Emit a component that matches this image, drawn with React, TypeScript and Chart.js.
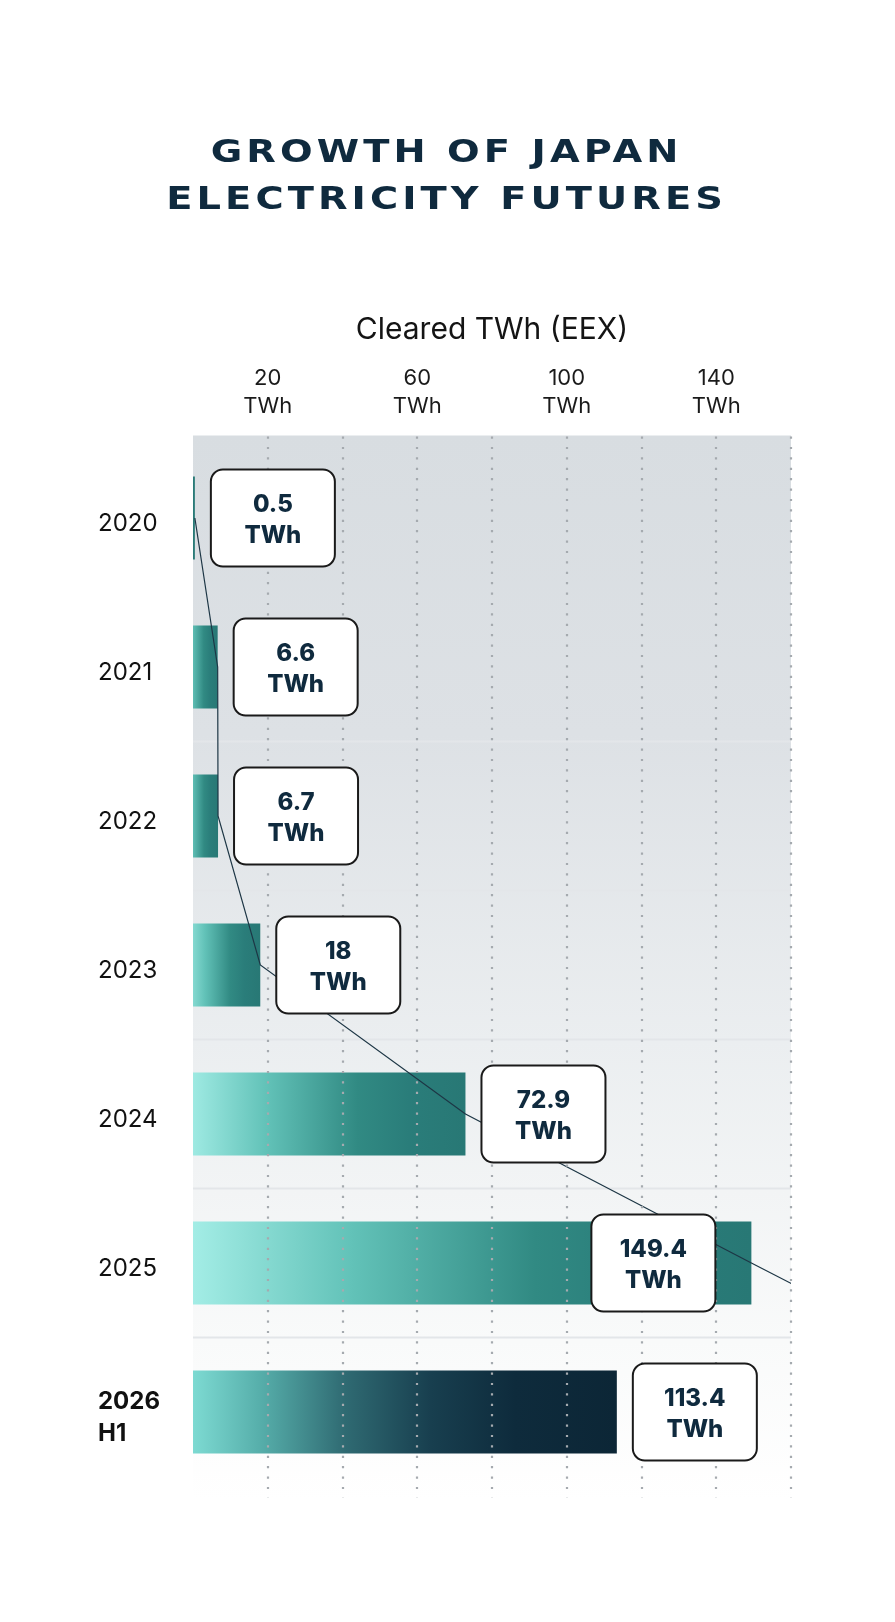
import React, { useEffect, useRef } from 'react';
import { Chart, registerables } from 'chart.js';

Chart.register(...registerables);

const years = ['2020', '2021', '2022', '2023', '2024', '2025', ['2026', 'H1']];
const clearedTWh = [0.5, 6.6, 6.7, 18, 72.9, 149.4, 113.4];
// connecting line; last point is H1 2026 at full-year pace, runs off the chart
const trendTWh = [0.5, 6.6, 6.7, 18, 72.9, 149.4, 226.8];
const labelledTicks = [20, 60, 100, 140];

const NAVY = '#0f2a3e';
const BOX_W = 124;
const BOX_H = 97;

function barFill(c: any) {
  const chart = c.chart;
  if (!chart.chartArea || c.type !== 'data') return '#2a7d7a';
  const xs = chart.scales.x;
  const x0 = xs.getPixelForValue(0);
  const x1 = xs.getPixelForValue(clearedTWh[c.dataIndex]);
  if (c.dataIndex === clearedTWh.length - 1) {
    const g = chart.ctx.createLinearGradient(x0, 0, x1, 0);
    g.addColorStop(0, '#7ddad2');
    g.addColorStop(0.16, '#56aeaa');
    g.addColorStop(0.36, '#2f6a72');
    g.addColorStop(0.56, '#183f4f');
    g.addColorStop(0.76, '#0e2b3c');
    g.addColorStop(1, '#0c2636');
    return g;
  }
  const g = chart.ctx.createLinearGradient(x0 - 12, 0, x1, 0);
  g.addColorStop(0, '#a8f0e9');
  g.addColorStop(0.3, '#62c2b8');
  g.addColorStop(0.62, '#318a83');
  g.addColorStop(0.8, '#2a7d7a');
  g.addColorStop(1, '#287875');
  return g;
}

const decor = {
  id: 'decor',
  beforeDraw(chart: any) {
    const { ctx, chartArea: a } = chart;
    const top = a.top - 8;
    const bottom = a.bottom + 14;
    const g = ctx.createLinearGradient(0, top, 0, bottom);
    g.addColorStop(0, '#d8dde1');
    g.addColorStop(0.28, '#dde1e5');
    g.addColorStop(0.57, '#ebeef0');
    g.addColorStop(0.85, '#f9fafa');
    g.addColorStop(1, '#ffffff');
    ctx.save();
    ctx.fillStyle = g;
    ctx.fillRect(a.left, top, a.right - a.left, bottom - top);
    ctx.restore();
  },
  beforeDatasetsDraw(chart: any) {
    const { ctx, chartArea: a } = chart;
    const ys = chart.scales.y;
    ctx.save();
    ctx.strokeStyle = '#e3e6e9';
    ctx.lineWidth = 2;
    for (let i = 1; i < years.length - 1; i++) {
      const y = (ys.getPixelForValue(i) + ys.getPixelForValue(i + 1)) / 2;
      ctx.beginPath();
      ctx.moveTo(a.left, y);
      ctx.lineTo(a.right, y);
      ctx.stroke();
    }
    ctx.restore();
  },
  afterDatasetsDraw(chart: any) {
    const { ctx, chartArea: a } = chart;
    const xs = chart.scales.x;
    const ys = chart.scales.y;

    // dotted verticals
    ctx.save();
    ctx.strokeStyle = '#a5aaaf';
    ctx.lineWidth = 2.2;
    ctx.setLineDash([2.2, 8.2]);
    xs.ticks.forEach((t: any) => {
      if (t.value <= 0) return;
      const x = Math.round(xs.getPixelForValue(t.value));
      ctx.beginPath();
      ctx.moveTo(x, a.top - 7);
      ctx.lineTo(x, a.bottom + 11);
      ctx.stroke();
    });
    ctx.restore();

    // value boxes
    ctx.save();
    clearedTWh.forEach((v, i) => {
      const end = xs.getPixelForValue(v);
      const cy = ys.getPixelForValue(i);
      let left = end + 16;
      if (left + BOX_W > a.right) left = end - 36 - BOX_W;
      ctx.beginPath();
      ctx.roundRect(left, cy - BOX_H / 2, BOX_W, BOX_H, 12);
      ctx.fillStyle = '#ffffff';
      ctx.fill();
      ctx.lineWidth = 2;
      ctx.strokeStyle = '#1a1a1a';
      ctx.stroke();
      ctx.fillStyle = NAVY;
      ctx.font = '800 24px Inter, sans-serif';
      ctx.textAlign = 'center';
      ctx.textBaseline = 'middle';
      ctx.fillText(String(v), left + BOX_W / 2, cy - 13);
      ctx.fillText('TWh', left + BOX_W / 2, cy + 18);
    });
    ctx.restore();
  },
};

const App: React.FC = () => {
  const canvasRef = useRef<HTMLCanvasElement | null>(null);

  useEffect(() => {
    document.body.style.margin = '0';
    let chart: Chart | null = null;
    const ctx = canvasRef.current?.getContext('2d');
    if (ctx) {
      chart = new Chart(ctx, {
        type: 'bar',
        data: {
          labels: years as any,
          datasets: [
            {
              type: 'line',
              data: trendTWh,
              indexAxis: 'y',
              borderColor: '#1d3645',
              borderWidth: 1.2,
              pointRadius: 0,
              fill: false,
              tension: 0,
              order: 0,
            } as any,
            {
              type: 'bar',
              data: clearedTWh,
              backgroundColor: barFill,
              borderWidth: 0,
              barPercentage: 1,
              categoryPercentage: 0.557,
              order: 1,
            },
          ],
        },
        options: {
          indexAxis: 'y',
          responsive: false,
          animation: false,
          layout: { padding: { top: 310, left: 98, right: 104, bottom: 135.5 } },
          plugins: {
            legend: { display: false },
            tooltip: { enabled: false },
          },
          scales: {
            x: {
              type: 'linear',
              position: 'top',
              min: 0,
              max: 160,
              grid: { display: false },
              border: { display: false },
              ticks: {
                stepSize: 20,
                autoSkip: false,
                maxRotation: 0,
                padding: 15.5,
                color: '#1a1a1a',
                font: { family: 'Inter, sans-serif', size: 22, lineHeight: 28 / 22 },
                callback: (v: any) => (labelledTicks.includes(Number(v)) ? [String(v), 'TWh'] : ''),
              },
              title: {
                display: true,
                text: 'Cleared TWh (EEX)',
                color: '#141414',
                font: { family: 'Inter, sans-serif', size: 30 },
                padding: { top: 2, bottom: 0 },
              },
              afterFit: (s: any) => {
                s.height = 133.5;
              },
            },
            y: {
              type: 'category',
              offset: true,
              grid: { display: false },
              border: { display: false },
              ticks: {
                crossAlign: 'far',
                padding: 0,
                labelOffset: 6,
                color: '#111111',
                font: (c: any) => ({
                  family: 'Inter, sans-serif',
                  size: 24,
                  lineHeight: 1.33,
                  weight: c.index === years.length - 1 ? 'bold' : 'normal',
                }),
              },
              afterFit: (s: any) => {
                s.width = 95;
              },
            },
          },
        },
        plugins: [decor],
      });
    }
    return () => {
      if (chart) chart.destroy();
    };
  }, []);

  return (
    <div style={{ position: 'relative', width: 895, height: 1622, background: '#ffffff' }}>
      <div
        style={{
          position: 'absolute',
          top: 128,
          left: 0,
          width: 895,
          textAlign: 'center',
          fontFamily: '"DejaVu Sans", sans-serif',
          fontWeight: 700,
          fontSize: 32,
          lineHeight: '47px',
          letterSpacing: '3.4px',
          color: NAVY,
          transform: 'scaleX(1.2)',
          transformOrigin: '452px 0',
        }}
      >
        GROWTH OF JAPAN
        <br />
        ELECTRICITY FUTURES
      </div>
      <canvas ref={canvasRef} width={895} height={1622} style={{ display: 'block', width: 895, height: 1622 }} />
    </div>
  );
};

export default App;
